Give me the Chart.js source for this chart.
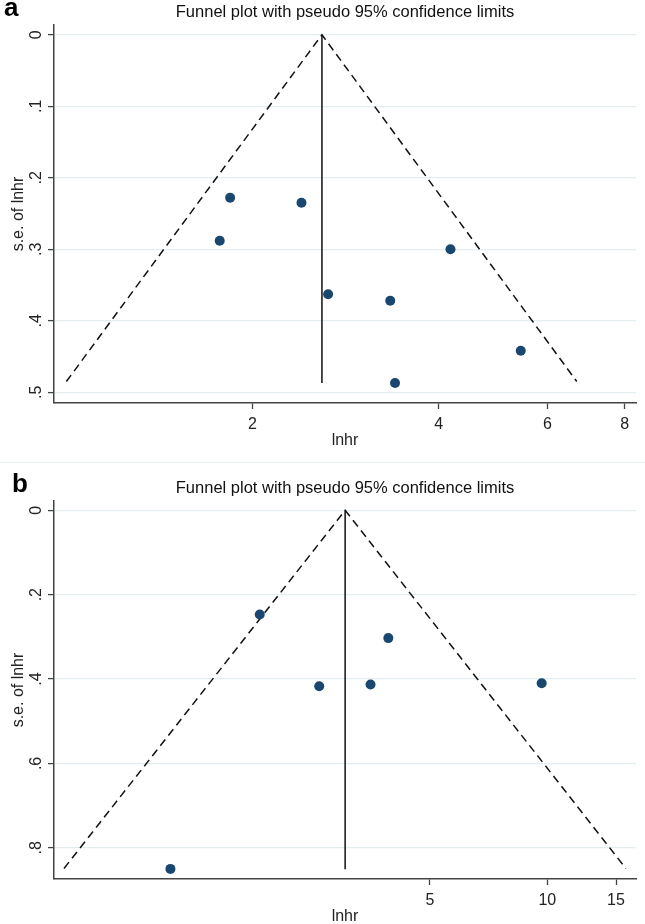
<!DOCTYPE html>
<html>
<head>
<meta charset="utf-8">
<script src="https://cdn.jsdelivr.net/npm/chart.js@4.4.1/dist/chart.umd.min.js"></script>
<style>
  html, body { margin: 0; padding: 0; background: #fff; overflow: hidden; }
  #wrap { position: relative; width: 645px; height: 924px; overflow: hidden; }
  .panel { position: absolute; left: 0; width: 645px; height: 461px; }
  .tag { position: absolute; font: bold 26px "Liberation Sans", Arial, sans-serif; line-height: 26px; color: #000; }
  .sep { position: absolute; left: 0; top: 462px; width: 645px; height: 1px; background: #e8eff1; }
</style>
</head>
<body>
<div id="wrap">
  <div class="panel" style="top:0"><canvas id="chartA" width="645" height="461"></canvas></div>
  <div class="sep"></div>
  <div class="panel" style="top:476px"><canvas id="chartB" width="645" height="461"></canvas></div>
  <div class="tag" style="left:4px;top:-6px">a</div>
  <div class="tag" style="left:12px;top:470px">b</div>
</div>
<script>
var TITLE = 'Funnel plot with pseudo 95% confidence limits';

// panel a : study hazard ratios and their s.e.
var hrA = [1.84, 2.40, 1.77, 2.65, 3.34, 4.18, 5.43, 3.40];
var seA = [0.228, 0.235, 0.288, 0.363, 0.372, 0.300, 0.442, 0.487];
var pooledA = 2.59;
var funnelXA = [1.00, 2.59, 6.69];
var funnelYA = [0.485, 0, 0.485];
var xTicksA = [2, 4, 6, 8];
var yTicksA = [0, 0.1, 0.2, 0.3, 0.4, 0.5];

// panel b
var hrB = [1.83, 2.60, 3.91, 3.52, 9.67, 1.08];
var seB = [0.247, 0.417, 0.303, 0.413, 0.410, 0.850];
var pooledB = 3.03;
var funnelXB = [0.576, 3.03, 15.9];
var funnelYB = [0.849, 0, 0.849];
var xTicksB = [5, 10, 15];
var yTicksB = [0, 0.2, 0.4, 0.6, 0.8];

var FONT = '"Liberation Sans", Arial, sans-serif';
var AXIS = '#444';
var GRID = '#e4edf0';
var DOT = '#1a476f';

function pts(xs, ys) {
    return xs.map(function (x, i) { return {x: x, y: ys[i]}; });
}

function fmtSe(v) {
    if (v === 0) return '0';
    return String(v).replace(/^0/, '');
}

function makeChart(id, o) {
    var ctx = document.getElementById(id).getContext('2d');
    return new Chart(ctx, {
        type: 'scatter',
        data: {
            datasets: [
                {
                    data: pts(o.hr, o.se),
                    backgroundColor: DOT,
                    borderWidth: 0,
                    pointRadius: 5,
                    pointHoverRadius: 5,
                    order: 0
                },
                {
                    data: pts(o.funnelX, o.funnelY),
                    showLine: true,
                    borderColor: '#111',
                    borderWidth: 1.5,
                    borderDash: [8, 5],
                    pointRadius: 0,
                    fill: false,
                    order: 1
                },
                {
                    data: pts([o.pooled, o.pooled], [0, o.funnelY[0] + 0.002]),
                    showLine: true,
                    borderColor: '#111',
                    borderWidth: 1.5,
                    pointRadius: 0,
                    fill: false,
                    order: 1
                }
            ]
        },
        options: {
            responsive: false,
            animation: false,
            events: [],
            layout: { padding: { top: 0, right: 9, bottom: 11, left: 0 } },
            plugins: {
                legend: { display: false },
                tooltip: { enabled: false },
                title: {
                    display: true,
                    text: TITLE,
                    fullSize: false,
                    color: '#111',
                    font: { family: FONT, size: 16.5, weight: 'normal' },
                    padding: { top: 3, bottom: 2.2 }
                }
            },
            scales: {
                x: {
                    type: 'logarithmic',
                    min: o.xMin,
                    max: o.xMax,
                    afterBuildTicks: function (s) {
                        s.ticks = o.xTicks.map(function (v) { return {value: v}; });
                    },
                    afterFit: function (s) { s.height = 47; },
                    ticks: {
                        autoSkip: false,
                        maxRotation: 0,
                        minRotation: 0,
                        padding: 6,
                        color: '#222',
                        font: { family: FONT, size: 16 },
                        callback: function (v) { return String(v); }
                    },
                    grid: { drawOnChartArea: false, tickLength: 6, tickColor: AXIS, tickWidth: 1.3 },
                    border: { color: AXIS, width: 1.5 },
                    title: {
                        display: true,
                        text: 'lnhr',
                        color: '#222',
                        font: { family: FONT, size: 16 },
                        padding: { top: 0, bottom: 0 }
                    }
                },
                y: {
                    type: 'linear',
                    reverse: true,
                    min: o.yMin,
                    max: o.yMax,
                    afterBuildTicks: function (s) {
                        s.ticks = o.yTicks.map(function (v) { return {value: v}; });
                    },
                    afterFit: function (s) { s.width = 54; },
                    ticks: {
                        autoSkip: false,
                        minRotation: 90,
                        maxRotation: 90,
                        crossAlign: 'center',
                        padding: 5,
                        color: '#222',
                        font: { family: FONT, size: 16 },
                        callback: fmtSe
                    },
                    grid: { color: GRID, lineWidth: 1.2, tickLength: 6, tickColor: AXIS, tickWidth: 1.3 },
                    border: { color: AXIS, width: 1.5 },
                    title: {
                        display: true,
                        text: 's.e. of lnhr',
                        color: '#222',
                        font: { family: FONT, size: 16 },
                        padding: { top: 9, bottom: 0 }
                    }
                }
            }
        }
    });
}

makeChart('chartA', {
    hr: hrA, se: seA, pooled: pooledA, funnelX: funnelXA, funnelY: funnelYA,
    xTicks: xTicksA, yTicks: yTicksA,
    xMin: 0.955, xMax: 8.34, yMin: -0.0136, yMax: 0.515
});

makeChart('chartB', {
    hr: hrB, se: seB, pooled: pooledB, funnelX: funnelXB, funnelY: funnelYB,
    xTicks: xTicksB, yTicks: yTicksB,
    xMin: 0.543, xMax: 16.88, yMin: -0.022, yMax: 0.874
});
</script>
</body>
</html>
